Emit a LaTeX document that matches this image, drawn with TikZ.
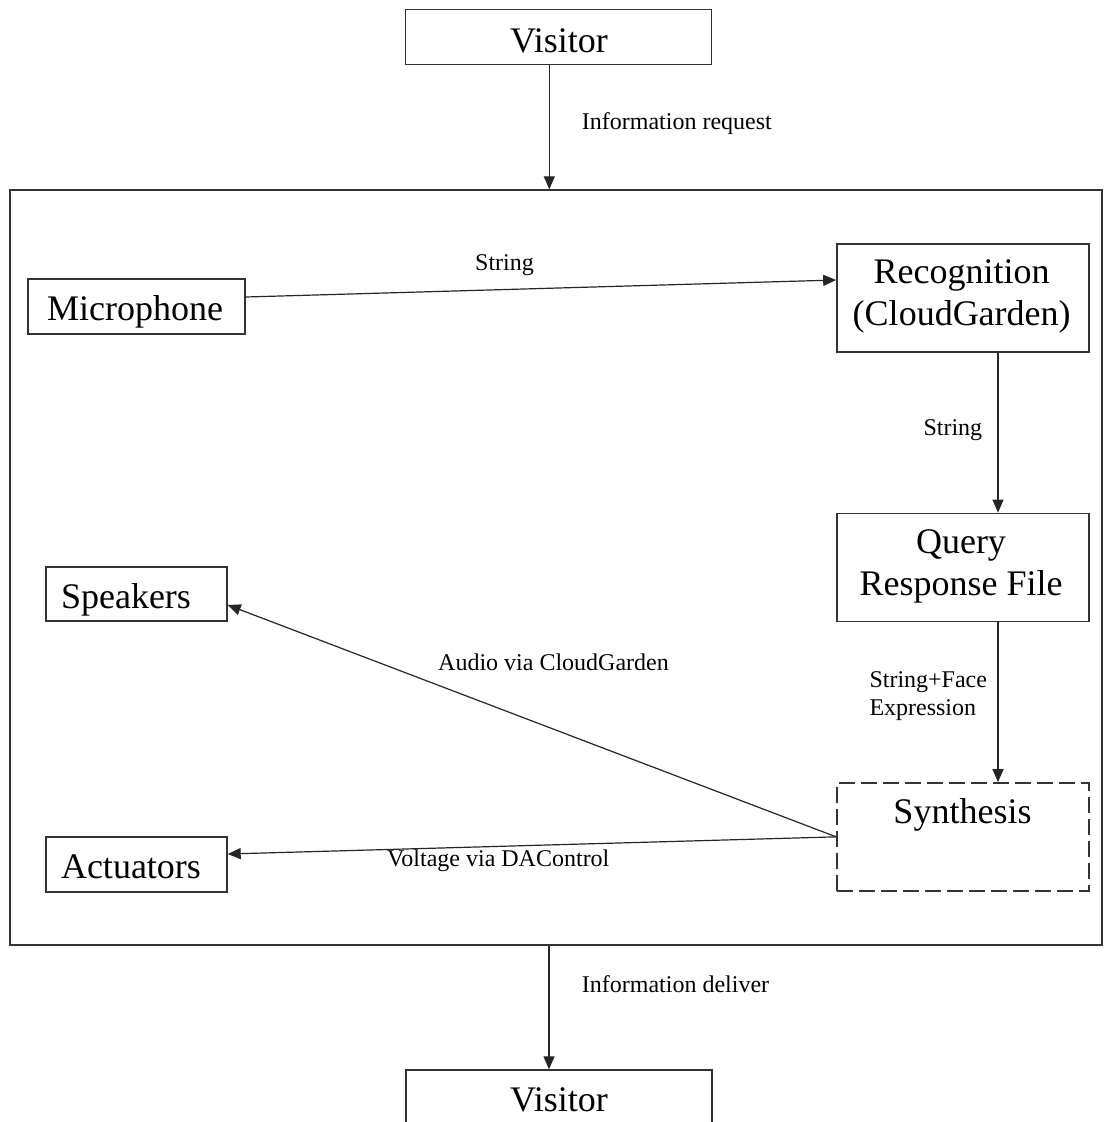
\documentclass[tikz,border=0pt]{standalone}
\usepackage{fontspec}
\setmainfont{Liberation Serif}
\usetikzlibrary{arrows.meta}
\begin{document}
\begin{tikzpicture}[x=1pt,y=-1pt,
  box/.style={draw=black!80,line width=1.4pt,inner sep=0pt,rectangle},
  dbox/.style={box,dash pattern=on 16pt off 6pt},
  big/.style={inner sep=0pt,anchor=base,font=\fontsize{36}{42}\selectfont,align=center},
  lbl/.style={inner sep=0pt,anchor=base west,font=\fontsize{24}{28}\selectfont,align=left},
  arr/.style={draw=black!85,line width=1.2pt,-{Triangle[length=13pt,width=11pt]}}]
\useasboundingbox (0,0) rectangle (1105,1122);
\clip (0,0) rectangle (1105,1122);
\fill[white] (0,0) rectangle (1105,1122);

% boxes
\node[box,minimum width=306pt,minimum height=55pt] (v1) at (558.7,36.7) {};
\node[box,minimum width=1092pt,minimum height=755pt] (outer) at (556,567.5) {};
\node[box,minimum width=217pt,minimum height=55pt] (mic) at (136.5,306.5) {};
\node[box,minimum width=252pt,minimum height=108pt] (rec) at (962.85,297.85) {};
\node[box,minimum width=252pt,minimum height=108pt] (qry) at (962.85,567.35) {};
\node[dbox,minimum width=252pt,minimum height=108pt] (syn) at (962.85,836.85) {};
\node[box,minimum width=181pt,minimum height=54pt] (spk) at (136.5,594) {};
\node[box,minimum width=181pt,minimum height=55pt] (act) at (136.5,864.35) {};
\node[box,minimum width=306pt,minimum height=65pt] (v2) at (558.85,1102.5) {};

% box texts
\node[big] (t1) at (559,52) {Visitor};
\node[big] (tmic) at (135,320) {Microphone};
\node[big] (trec1) at (961.7,283.3) {Recognition};
\node[big] (trec2) at (961.7,325) {(CloudGarden)};
\node[big] (tq1) at (961,553) {Query};
\node[big] (tq2) at (961,595) {Response File};
\node[big] (tsyn) at (962.5,823.3) {Synthesis};
\node[big] (tspk) at (126,608.3) {Speakers};
\node[big] (tact) at (131,878.3) {Actuators};
\node[big] (t2) at (559,1111.7) {Visitor};

% connectors
\draw[arr] ([xshift=-9.4pt]v1.south) -- ([xshift=-9.4pt]v1.south |- outer.north);
\draw[arr] ([yshift=9.5pt]mic.east) -- ([yshift=17.85pt]rec.west);
\draw[arr] ([xshift=35.15pt]rec.south) -- ([xshift=35.15pt]qry.north);
\draw[arr] ([xshift=35.15pt]qry.south) -- ([xshift=35.15pt]syn.north);
\draw[arr] (syn.west) -- ([yshift=-11pt]spk.east);
\draw[arr] (syn.west) -- ([yshift=10.35pt]act.east);
\draw[arr] ([xshift=-9.85pt]v2.north |- outer.south) -- ([xshift=-9.85pt]v2.north);

% connector labels
\node[lbl] (l1) at (581.7,129.3) {Information request};
\node[lbl] (l2) at (475,270.7) {String};
\node[lbl] (l3) at (923.3,435) {String};
\node[lbl] (l4) at (869.3,715) {String+Face\\Expression};
\node[lbl] (l5) at (438,670) {Audio via CloudGarden};
\node[lbl] (l6) at (387,866.7) {Voltage via DAControl};
\node[lbl] (l7) at (581.7,992.7) {Information deliver};
\end{tikzpicture}
\end{document}
